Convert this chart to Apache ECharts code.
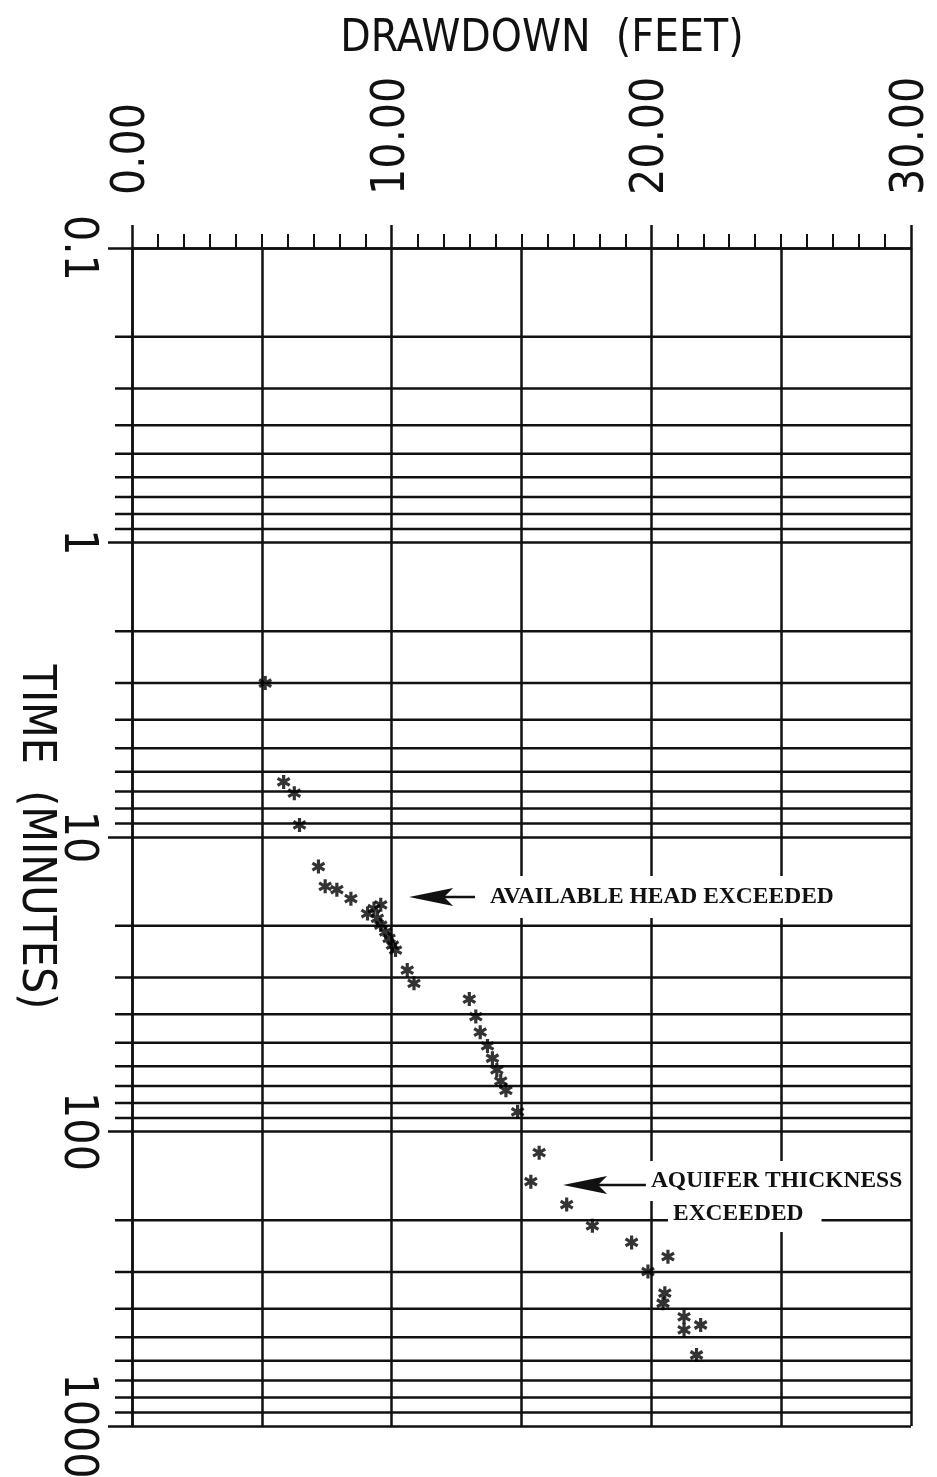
<!DOCTYPE html>
<html>
<head>
<meta charset="utf-8">
<script src="https://cdn.jsdelivr.net/npm/echarts@6/dist/echarts.min.js"></script>
<style>
html,body{margin:0;padding:0;background:#fff;}
#chart{width:937px;height:1477px;}
</style>
</head>
<body>
<div id="chart"></div>
<script>
// ---- data ----
const drawdownFeet = [
  5.13, 5.84, 6.25, 6.45, 7.18, 7.44, 7.89, 8.43,
  9.58, 9.32, 9.07, 9.45, 9.58, 9.77, 9.90, 10.03, 10.15,
  10.60, 10.86,
  12.99, 13.24, 13.41, 13.69, 13.88, 14.05, 14.20, 14.40, 14.85,
  15.68, 15.36, 16.74, 17.73, 19.24,
  20.64, 19.87, 20.52, 20.45, 21.26, 21.90, 21.26, 21.74
];
const timeMinutes = [
  3.0, 6.5, 7.1, 9.1, 12.6, 14.7, 15.1, 16.2,
  17.0, 17.5, 18.2, 18.9, 19.9, 21.0, 22.1, 23.3, 24.2,
  28.3, 31.4,
  35.5, 40.7, 46.0, 51.2, 56.4, 61.8, 67.4, 72.5, 85.7,
  118, 148, 177, 209, 238,
  266, 299, 354, 383, 426, 454, 472, 574
];
const drawdownTickLabels = ['0.00', '10.00', '20.00', '30.00'];
const timeTickLabels = ['0.1', '1', '10', '100', '1000'];
const minorTimes = [
  0.2, 0.3, 0.4, 0.5, 0.6, 0.7, 0.8, 0.9,
  2, 3, 4, 5, 6, 7, 8, 9,
  20, 30, 40, 50, 60, 70, 80, 90,
  200, 300, 400, 500, 600, 700, 800, 900
];
const annotationLabels = ['AVAILABLE HEAD EXCEEDED', 'AQUIFER THICKNESS', 'EXCEEDED'];
const annotationDrawdown = [13.59, 19.79, 20.64];
const annotationTime = [16.0, 147.3, 190.6];
const arrowTipDrawdown = [10.67, 16.60];
const arrowTailDrawdown = [13.21, 19.95];
const arrowTime = [16.0, 152];

// ---- styling ----
const INK = '#111';
const LW = 2.5;
const SANS = '"Liberation Sans Narrow", "DejaVu Sans Condensed", "Liberation Sans", sans-serif';
const SERIF = '"Liberation Serif", "DejaVu Serif", serif';
const annotationPadding = [[9, 4, 9, 5], [8, 0, 8, 5], [6, 18, 6, 5]];
const asterisk = 'path://M5 0 L5 10 M0.67 2.5 L9.33 7.5 M0.67 7.5 L9.33 2.5';

const chart = echarts.init(document.getElementById('chart'), null, {renderer: 'canvas'});

const option = {
  animation: false,
  backgroundColor: '#fff',
  grid: {left: 132, right: 26, top: 248, bottom: 51, containLabel: false, outerBoundsMode: 'none'},
  graphic: [{
    type: 'text',
    x: 542, y: 40,
    style: {
      text: 'DRAWDOWN  (FEET)',
      font: '44px ' + SANS,
      fill: INK,
      align: 'center', verticalAlign: 'middle',
      textAlign: 'center', textVerticalAlign: 'middle'
    }
  }],
  xAxis: [{
    type: 'value', position: 'top', min: 0, max: 30, interval: 10,
    axisLine: {show: true, lineStyle: {color: INK, width: LW}},
    axisTick: {show: true, length: 23, lineStyle: {color: INK, width: LW}},
    minorTick: {show: true, splitNumber: 10, length: 14, lineStyle: {color: INK, width: 2}},
    splitLine: {show: false},
    axisLabel: {
      rotate: -90, margin: 53, color: INK, fontSize: 46, fontFamily: SANS,
      formatter: v => drawdownTickLabels[Math.round(v / 10)]
    }
  }, {
    type: 'value', position: 'top', min: 0, max: 30, interval: 5,
    axisLine: {show: false}, axisTick: {show: false}, axisLabel: {show: false},
    splitLine: {show: true, lineStyle: {color: INK, width: LW}}
  }],
  yAxis: {
    type: 'log', logBase: 10, min: 0.1, max: 1000, splitNumber: 4, inverse: true, position: 'left',
    name: 'TIME  (MINUTES)', nameLocation: 'middle', nameRotate: -90, nameGap: 74,
    nameMoveOverlap: false,
    nameTextStyle: {fontSize: 46, fontFamily: SANS, color: INK},
    axisLine: {show: true, lineStyle: {color: INK, width: LW}},
    axisTick: {show: true, length: 24, lineStyle: {color: INK, width: LW}},
    splitLine: {show: true, lineStyle: {color: INK, width: LW}},
    axisLabel: {
      rotate: -90, margin: 32, color: INK, fontSize: 46, fontFamily: SANS,
      formatter: v => timeTickLabels[Math.round(Math.log10(v)) + 1]
    }
  },
  series: [{
    type: 'custom', name: 'minor grid', silent: true, clip: false, z: 1,
    xAxisIndex: 0, yAxisIndex: 0,
    data: minorTimes.map(t => [0, t]),
    encode: {x: 0, y: 1},
    renderItem: (params, api) => {
      const cs = params.coordSys;
      const y = api.coord([0, api.value(1)])[1];
      return {type: 'line', shape: {x1: cs.x - 17, y1: y, x2: cs.x + cs.width, y2: y},
              style: {stroke: INK, lineWidth: LW}};
    }
  }, {
    type: 'scatter', name: 'drawdown', xAxisIndex: 0, yAxisIndex: 0, z: 3,
    symbol: asterisk, symbolKeepAspect: true, symbolSize: 14,
    itemStyle: {color: 'rgba(0,0,0,0)', borderColor: '#000', borderWidth: 3.2},
    data: drawdownFeet.map((d, i) => [d, timeMinutes[i]])
  }, {
    type: 'custom', name: 'arrows', silent: true, clip: false, z: 5,
    xAxisIndex: 0, yAxisIndex: 0,
    data: arrowTipDrawdown.map((d, i) => [d, arrowTime[i], arrowTailDrawdown[i]]),
    encode: {x: 0, y: 1},
    renderItem: (params, api) => {
      const tip = api.coord([api.value(0), api.value(1)]);
      const tail = api.coord([api.value(2), api.value(1)]);
      const x = tip[0], y = tip[1];
      return {type: 'group', children: [
        {type: 'line', shape: {x1: x + 34, y1: y, x2: tail[0], y2: y}, style: {stroke: INK, lineWidth: 2.5}},
        {type: 'polygon', shape: {points: [[x, y], [x + 44, y - 9], [x + 35, y], [x + 44, y + 9]]}, style: {fill: INK}}
      ]};
    }
  }, {
    type: 'custom', name: 'notes', silent: true, clip: false, z: 6,
    xAxisIndex: 0, yAxisIndex: 0,
    data: annotationDrawdown.map((d, i) => [d, annotationTime[i], i]),
    encode: {x: 0, y: 1},
    renderItem: (params, api) => {
      const p = api.coord([api.value(0), api.value(1)]);
      const i = api.value(2);
      return {type: 'text', x: p[0], y: p[1], style: {
        text: annotationLabels[i], font: 'bold 23.5px ' + SERIF, fill: INK,
        align: 'left', verticalAlign: 'middle',
        backgroundColor: '#fff', padding: annotationPadding[i]
      }};
    }
  }]
};
chart.setOption(option);
</script>
</body>
</html>
